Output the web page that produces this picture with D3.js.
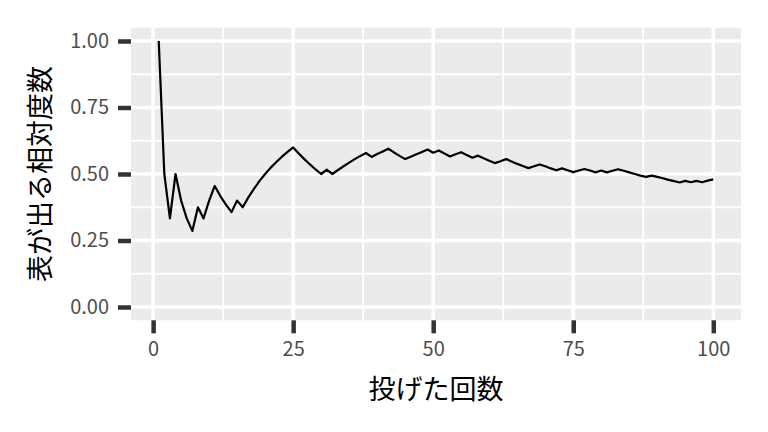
<!DOCTYPE html>
<html><head><meta charset="utf-8">
<script src="https://cdn.jsdelivr.net/npm/d3@7"></script>
<style>body{margin:0;background:#fff}svg{display:block}</style>
</head><body><svg id="c" width="768" height="432"></svg>
<script>
const tosses = d3.range(1, 101);
const relFreq = [
1.000,0.500,0.333,0.500,0.400,0.333,0.286,0.375,0.333,0.400,
0.455,0.417,0.385,0.357,0.400,0.375,0.412,0.444,0.474,0.500,
0.524,0.545,0.565,0.583,0.600,0.577,0.556,0.536,0.517,0.500,
0.516,0.500,0.515,0.529,0.543,0.556,0.568,0.579,0.564,0.575,
0.585,0.595,0.581,0.568,0.556,0.565,0.574,0.583,0.592,0.580,
0.588,0.577,0.566,0.574,0.582,0.571,0.561,0.569,0.559,0.550,
0.541,0.548,0.556,0.547,0.538,0.530,0.522,0.529,0.536,0.529,
0.521,0.514,0.521,0.514,0.507,0.513,0.519,0.513,0.506,0.513,
0.506,0.512,0.518,0.512,0.506,0.500,0.494,0.489,0.494,0.489,
0.484,0.478,0.473,0.468,0.474,0.469,0.474,0.469,0.475,0.480];
const xTicks = [0, 25, 50, 75, 100];
const xMinor = [12.5, 37.5, 62.5, 87.5];
const yTicks = [0, 0.25, 0.5, 0.75, 1];
const yMinor = [0.125, 0.375, 0.625, 0.875];
const xTitle = "投げた回数";
const yTitle = "表が出る相対度数";

const svg = d3.select("#c");
const font = "'Noto Sans CJK JP','Noto Sans',sans-serif";
const L = 131, R = 741, T = 27.7, B = 320.3;
const x = d3.scaleLinear().domain([1 - 99*0.05, 100 + 99*0.05]).range([L, R]);
const y = d3.scaleLinear().domain([-0.05, 1.05]).range([B, T]);

svg.append("rect").attr("x", L).attr("y", T).attr("width", R-L).attr("height", B-T).attr("fill", "#ebebeb");
const g = svg.append("g");
g.selectAll(".xm").data(xMinor).join("line").attr("x1", d=>x(d)).attr("x2", d=>x(d)).attr("y1", T).attr("y2", B).attr("stroke", "#fff").attr("stroke-width", 1.8);
g.selectAll(".ym").data(yMinor).join("line").attr("y1", d=>y(d)).attr("y2", d=>y(d)).attr("x1", L).attr("x2", R).attr("stroke", "#fff").attr("stroke-width", 1.8);
g.selectAll(".xM").data(xTicks).join("line").attr("x1", d=>x(d)).attr("x2", d=>x(d)).attr("y1", T).attr("y2", B).attr("stroke", "#fff").attr("stroke-width", 3.6);
g.selectAll(".yM").data(yTicks).join("line").attr("y1", d=>y(d)).attr("y2", d=>y(d)).attr("x1", L).attr("x2", R).attr("stroke", "#fff").attr("stroke-width", 3.6);

const line = d3.line().x((d,i)=>x(tosses[i])).y(d=>y(d));
svg.append("path").datum(relFreq).attr("d", line).attr("fill", "none").attr("stroke", "#000").attr("stroke-width", 2.2).attr("stroke-linejoin", "round");

const xAxis = svg.append("g").attr("transform", `translate(0,${B})`)
  .call(d3.axisBottom(x).tickValues(xTicks).tickSize(13).tickPadding(9).tickFormat(d3.format("d")));
const yAxis = svg.append("g").attr("transform", `translate(${L},0)`)
  .call(d3.axisLeft(y).tickValues(yTicks).tickSize(13).tickPadding(9).tickFormat(d3.format(".2f")));
[xAxis, yAxis].forEach(a => {
  a.attr("font-size", null).attr("font-family", null);
  a.select(".domain").remove();
  a.selectAll(".tick line").attr("stroke", "#333").attr("stroke-width", 4.5);
  a.selectAll(".tick text").attr("fill", "#4d4d4d").attr("font-family", font).attr("font-size", 20);
});

svg.append("text").attr("x", (L+R)/2).attr("y", 399).attr("text-anchor", "middle")
  .attr("font-family", font).attr("font-size", 27).attr("fill", "#000").text(xTitle);
svg.append("text").attr("transform", `translate(50,${(T+B)/2}) rotate(-90)`).attr("text-anchor", "middle")
  .attr("font-family", font).attr("font-size", 27).attr("fill", "#000").text(yTitle);
</script></body></html>
